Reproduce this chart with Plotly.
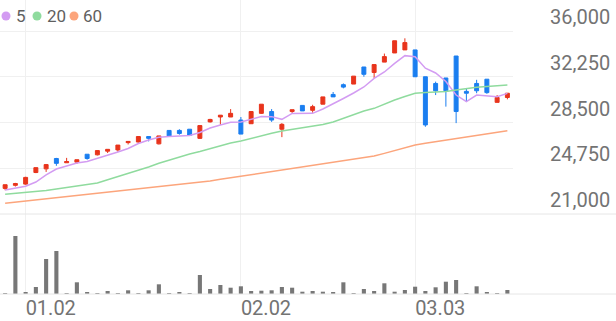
import plotly.graph_objects as go

# ---------------- data ----------------
idx = list(range(50))

opens = [23100, 23350, 23450, 24400, 24700, 25550, 25200, 25250, 25900, 25850,
         26150, 26250, 26850, 26900, 27350, 26750, 27850, 27850, 27950, 27200,
         28550, 28950, 28950, 28700, 28400, 29250, 29400, 27950, 29400, 29900,
         29500, 30000, 30800, 31600, 31650, 33050, 32600, 33450, 34200, 34450,
         34450, 32250, 31700, 32150, 33950, 31050, 31700, 32050, 30150, 30550]
highs = [23400, 23550, 24050, 24800, 25100, 25600, 25600, 25450, 25900, 26200,
         26300, 26650, 26950, 27350, 27350, 27400, 27850, 27950, 27950, 28250,
         28800, 29100, 29600, 28950, 29400, 30000, 29600, 28450, 29550, 29900,
         29950, 30600, 31000, 31700, 32300, 33050, 33250, 34150, 35200, 35400,
         34450, 32250, 31850, 32150, 33950, 31300, 32000, 32050, 30750, 30900]
lows = [22950, 23250, 23400, 24350, 24450, 24950, 25200, 25100, 25450, 25800,
        26000, 26100, 26700, 26850, 26950, 26700, 27400, 27500, 27450, 27150,
        28500, 28300, 28950, 27550, 28400, 29200, 28550, 27300, 29250, 29450,
        29300, 30000, 30600, 31300, 31650, 32250, 32150, 33450, 34200, 34450,
        32250, 28150, 30750, 29800, 28450, 30200, 30900, 30850, 30150, 30400]
closes = [23400, 23500, 24000, 24800, 25050, 25150, 25300, 25450, 25550, 26200,
          26300, 26650, 26950, 27350, 27200, 27400, 27400, 27600, 27450, 28250,
          28750, 29100, 29250, 27550, 29400, 30000, 28700, 28350, 29550, 29450,
          29800, 30600, 30600, 31400, 32300, 32450, 33250, 33900, 35200, 35050,
          32250, 28300, 31100, 31100, 29400, 30900, 31100, 30950, 30550, 30900]
volumes = [7000, 580000, 20000, 70000, 350000, 430000, 3000, 117000, 20000, 10000,
           30000, 5000, 37000, 5000, 37000, 97000, 10000, 13000, 10000, 190000,
           50000, 90000, 63000, 77000, 30000, 33000, 37000, 70000, 63000, 23000,
           30000, 23000, 15000, 117000, 5000, 50000, 30000, 107000, 23000, 40000,
           73000, 30000, 67000, 123000, 140000, 10000, 77000, 20000, 5000, 40000]

ma5 = [22970, 23130, 23270, 23620, 24200, 24690, 24930, 25180, 25300, 25550,
       25800, 26080, 26370, 26780, 27070, 27290, 27350, 27390, 27430, 27680,
       28050, 28300, 28520, 28540, 28790, 28990, 28980, 28760, 29240, 29250,
       29250, 29610, 30020, 30470, 30920, 31410, 32110, 32640, 33340, 33980,
       33890, 32950, 32560, 31860, 30750, 30210, 30750, 30700, 30620, 30890]
ma20 = [22610, 22680, 22750, 22820, 22930, 23050, 23170, 23250, 23380, 23540,
        23800, 24050, 24300, 24570, 24850, 25160, 25430, 25670, 25920, 26120,
        26350, 26570, 26820, 26980, 27210, 27390, 27620, 27800, 27930, 28020,
        28150, 28340, 28540, 28830, 29120, 29440, 29660, 30020, 30340, 30630,
        30890, 30960, 31000, 31040, 31160, 31290, 31390, 31450, 31520, 31570]
ma60 = [21880, 21970, 22050, 22150, 22240, 22330, 22420, 22510, 22600, 22690,
        22780, 22870, 22970, 23060, 23150, 23250, 23340, 23430, 23530, 23620,
        23710, 23840, 23970, 24100, 24230, 24350, 24480, 24620, 24740, 24870,
        24990, 25120, 25240, 25360, 25490, 25620, 25750, 25970, 26200, 26430,
        26660, 26790, 26920, 27050, 27180, 27310, 27440, 27570, 27700, 27830]

date_tick_idx = [2, 23, 40]
date_tick_text = ["01.02", "02.02", "03.03"]
price_ticks = [21000, 24750, 28500, 32250, 36000]
ma_names = ["5", "20", "60"]

# ---------------- style ----------------
W, H = 616, 321
RED = "#e8341c"
BLUE = "#1a7ef0"
MA_COLORS = ["#d39cf2", "#8fdb9e", "#fca57c"]
GRID = "#f0f0f0"
SEP = "#e6e6e6"
TXT = "#737373"
FONT = "Roboto"

x_dom_right = 512.5 / W
price_bottom = 1 - 214 / H
vol_bottom = 1 - 294 / H
price_range = [21000, 21000 + 15000 * 214 / 183]

fig = go.Figure()

fig.add_trace(go.Candlestick(
    x=idx, open=opens, high=highs, low=lows, close=closes,
    increasing=dict(line=dict(color=RED, width=1), fillcolor=RED),
    decreasing=dict(line=dict(color=BLUE, width=1), fillcolor=BLUE),
    whiskerwidth=0, xaxis="x", yaxis="y", showlegend=False,
))

for name, vals, col in zip(ma_names, [ma5, ma20, ma60], MA_COLORS):
    fig.add_trace(go.Scatter(
        x=idx, y=vals, mode="lines", name=name,
        line=dict(color=col, width=1.5),
        xaxis="x", yaxis="y", showlegend=False,
    ))

fig.add_trace(go.Bar(
    x=idx, y=volumes, width=0.4, marker=dict(color="#777777", line=dict(width=0)),
    xaxis="x2", yaxis="y2", showlegend=False,
))

axis_common = dict(
    domain=[0, x_dom_right], range=[-0.5, 49.5],
    tickmode="array", tickvals=date_tick_idx, ticktext=date_tick_text,
    showgrid=True, gridcolor=GRID, gridwidth=1, zeroline=False,
    showline=False, ticks="",
)

fig.update_layout(
    width=W, height=H,
    margin=dict(l=0, r=0, t=0, b=0),
    paper_bgcolor="white", plot_bgcolor="white",
    showlegend=False, boxgap=0.45,
    xaxis=dict(**axis_common, anchor="y", showticklabels=False,
               rangeslider=dict(visible=False)),
    xaxis2=dict(**axis_common, anchor="y2", matches="x", showticklabels=True,
                ticklabelposition="outside right",
                tickfont=dict(family=FONT, size=20, color=TXT)),
    yaxis=dict(domain=[price_bottom, 1], range=price_range,
               tickmode="array", tickvals=price_ticks, showticklabels=False,
               showgrid=True, gridcolor=GRID, zeroline=False, showline=False),
    yaxis2=dict(domain=[vol_bottom, price_bottom], range=[0, 800000],
                showgrid=False, showticklabels=False, zeroline=False, showline=False),
)

# full-width separators
for yp in [price_bottom, vol_bottom]:
    fig.add_shape(type="line", xref="paper", yref="paper", x0=0, x1=1, y0=yp, y1=yp,
                  line=dict(color=SEP, width=1))

# price labels sit above their grid lines on the right
for v in price_ticks:
    fig.add_annotation(x=1, xref="paper", y=v, yref="y", xanchor="right", yanchor="bottom",
                       xshift=-4, yshift=0, text=f"{v:,}", showarrow=False,
                       font=dict(family=FONT, size=20, color=TXT))

# legend: coloured dot + period label
dot_x = [6, 37, 74]
text_x = [14, 45, 81]
for n, c, dx, tx in zip(ma_names, MA_COLORS, dot_x, text_x):
    fig.add_shape(type="circle", xref="paper", yref="paper",
                  xsizemode="pixel", ysizemode="pixel", xanchor=0, yanchor=1,
                  x0=dx - 4.5, x1=dx + 4.5, y0=-16 - 4.5, y1=-16 + 4.5,
                  fillcolor=c, line=dict(width=0))
    fig.add_annotation(x=0, xref="paper", y=1, yref="paper", xanchor="left", yanchor="top",
                       xshift=tx, yshift=-4, text=n, showarrow=False,
                       font=dict(family=FONT, size=17, color="#5f5f5f"))

fig.write_html("out.html")
